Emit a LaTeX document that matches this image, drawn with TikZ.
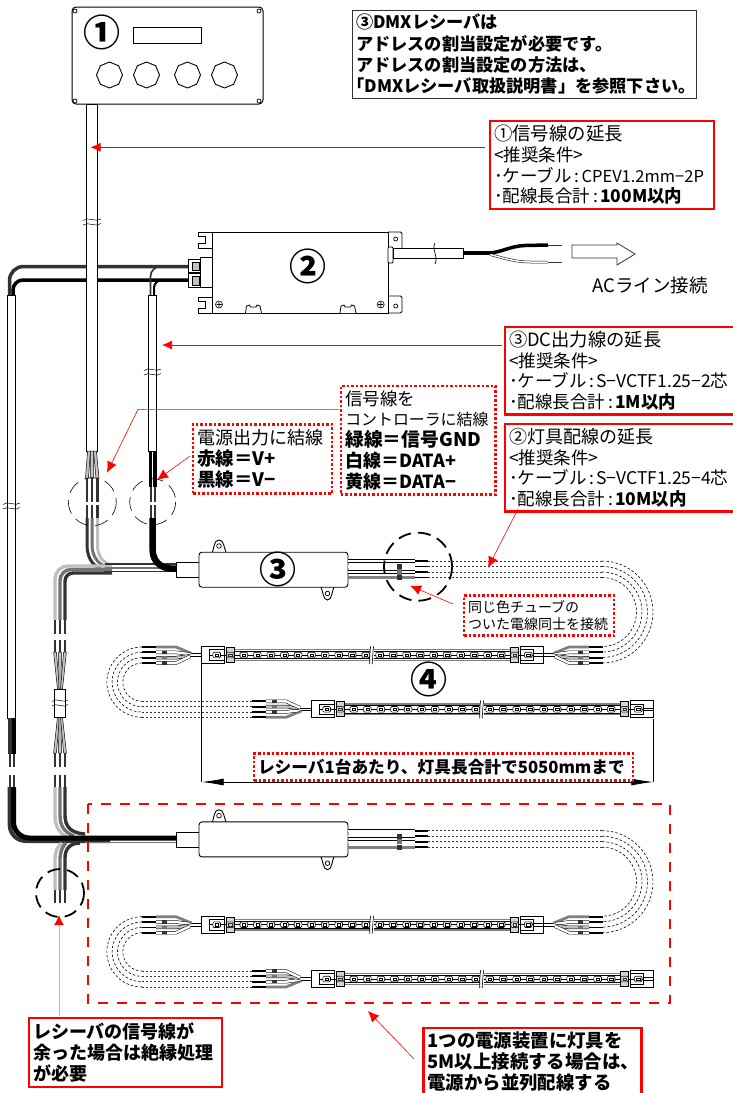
\documentclass[tikz,border=0pt]{standalone}
\usepackage{fontspec}
\setmainfont{Noto Sans CJK JP}
\usetikzlibrary{shapes.geometric, arrows.meta}
\definecolor{wirelight}{gray}{0.75}
\definecolor{wiremid}{gray}{0.45}
\definecolor{wiredark}{gray}{0.2}
\tikzset{
  redbox/.style={draw=red,line width=2.5pt,fill=white,outer sep=0pt,inner sep=4pt,align=left,font=\fontsize{17.5}{20.7}\selectfont},
  dotbox/.style={redbox,dash pattern=on 2.5pt off 2pt},
  blackbox/.style={redbox,draw=black!80,line width=1pt,font=\fontsize{17.2}{21.2}\selectfont\bfseries},
  numlabel/.style={font=\fontsize{37}{37}\selectfont\bfseries,inner sep=0pt},
  redarrow/.style={draw=red,line width=0.6pt,-{Latex[length=11pt,width=10pt]}},
  cable/.style={draw,fill=white,line width=0.9pt,outer sep=0pt,inner sep=0pt},
  recvbody/.style={draw,fill=white,line width=0.9pt,rounded corners=3pt,outer sep=0pt,inner sep=0pt,minimum width=149,minimum height=35},
  whitewire/.style={draw=black,double=white,line width=0.5pt,double distance=2.4pt},
  dotwire/.style={draw=wiredark,line width=0.7pt,dash pattern=on 2pt off 2pt},
  dashwire/.style={draw=black,line width=0.6pt,dash pattern=on 2.5pt off 2pt},
  thinring/.style={line width=0.6pt,dash pattern=on 14pt off 7pt},
  thickring/.style={line width=1.8pt,dash pattern=on 13pt off 7pt},
}
\newcommand{\fs}[2]{{\fontsize{#1}{20.7}\selectfont #2}}
\newcommand{\colonsep}{\kern3pt:\kern2pt}
\newcommand{\cutmark}[3]{%
  \draw[line width=0.5pt] ({#1-#3},{#2-1.5}) .. controls ({#1-#3/2},{#2-6}) and ({#1+#3/2},{#2+1}) .. ({#1+#3},{#2-3});
  \draw[line width=0.5pt] ({#1-#3},{#2+3}) .. controls ({#1-#3/2},{#2-1}) and ({#1+#3/2},{#2+6}) .. ({#1+#3},{#2+1.5});
}
\newcommand{\ledstrip}[2]{%
  \begin{scope}[shift={(#1,#2)}]
    \draw[line width=1.5pt,gray] (32,-5.3)--(309,-5.3) (32,5.3)--(309,5.3);
    \draw[line width=0.7pt] (32,-3.7)--(309,-3.7) (32,3.7)--(309,3.7);
    \draw[line width=0.8pt] (7,0)--(331,0);
    \foreach \n in {0,...,11} {
      \draw[rounded corners=1.2pt,line width=0.6pt,fill=white] ({15+13.55*\n-3.8},-2.8) rectangle ({15+13.55*\n+3.8},2.8);
      \draw[line width=0.5pt] ({15+13.55*\n-1.6},-1.2) rectangle ({15+13.55*\n+1.6},1.2);
      \draw[rounded corners=1.2pt,line width=0.6pt,fill=white] ({178+13.5*\n-3.8},-2.8) rectangle ({178+13.5*\n+3.8},2.8);
      \draw[line width=0.5pt] ({178+13.5*\n-1.6},-1.2) rectangle ({178+13.5*\n+1.6},1.2);
    }
    \fill[white] (168.5,-8.5) rectangle (172.5,8.5);
    \draw[line width=0.6pt] (169,-9) .. controls (168,-3) and (168,3) .. (168,9);
    \draw[line width=0.6pt] (172,-9) .. controls (171,-3) and (171,3) .. (170.5,9);
    \draw[line width=0.7pt,fill=gray,fill opacity=0.35] (24.5,-7.5) rectangle (32.5,7.5);
    \draw[line width=0.7pt,fill=gray,fill opacity=0.35] (309,-7.5) rectangle (317,7.5);
    \draw[line width=0.7pt] (0,-8.5) rectangle (23,8.5) (7.3,-5.3) rectangle (23,5.3);
    \draw[line width=0.7pt] (318.5,-8.5) rectangle (341.6,8.5) (318.5,-5.3) rectangle (331.5,5.3);
    \draw[line width=0.7pt] (331.5,-1.3)--(341.6,-1.3) (331.5,1.3)--(341.6,1.3);
  \end{scope}
}
\newcommand{\wirefan}[4]{%
  \begin{scope}[shift={(#1,#2)},xscale=#3,yscale=#4]
    \draw[line width=0.9pt] (0,-1.3)--(-11.7,-1.3) (0,1.3)--(-11.7,1.3);
    \draw[line width=2.8pt,gray] (-10,-1.5)--(-25.7,-8)--(-45.7,-8);
    \draw[whitewire] (-11.7,-0.8)--(-25.7,-2.7)--(-45.7,-2.7);
    \draw[whitewire,double=wirelight] (-11.7,0.8)--(-25.7,2.7)--(-45.7,2.7);
    \draw[whitewire] (-11.7,1.5)--(-25.7,8)--(-45.7,8);
    \foreach \wy in {-8,-2.7,2.7,8} {
      \draw[line width=1.8pt] (-45.7,\wy)--(-59.7,\wy);
    }
    \fill[wiredark] (-40,-4.3) rectangle (-35,-1.1);
    \fill[wiremid] (-40,1.1) rectangle (-35,4.3);
    \fill[wiredark] (-40,6.4) rectangle (-35,9.6);
  \end{scope}
}
\begin{document}
\begin{tikzpicture}[x=1pt,y=1pt,yscale=-1]
\path[use as bounding box,clip] (0,0) rectangle (733,1093);

% power wires
\draw[line width=3.5pt,wiredark,rounded corners=14pt] (188,266.5)--(9.5,266.5)--(9.5,296);
\draw[line width=3.5pt,black,rounded corners=10pt] (188,280)--(13,280)--(13,296);
\draw[line width=1.6pt,wiredark,rounded corners=10pt] (188,266.5)--(150.5,266.5)--(150.5,296);
\draw[line width=2pt,black,rounded corners=8pt] (188,280)--(154,280)--(154,296);

% cables
\node[cable,minimum width=11,minimum height=347] (sigcable) at (92,277.5) {};
\node[cable,minimum width=8,minimum height=423] (longcable) at (11.5,506.5) {};
\node[cable,minimum width=8,minimum height=156] (dccable) at (152.5,373) {};
\cutmark{92}{222}{9}
\cutmark{11.5}{506}{8.5}
\cutmark{152.5}{372}{8.5}

% signal wires under the first cable
\foreach \xa/\xb in {89/87,92/92,95/97.5} {
  \draw[line width=0.5pt,fill=wiremid!40] ({\xa-1.4},451)--({\xa+1.4},451)--({\xb+1.5},478)--({\xb-1.5},478)--cycle;
  \draw[line width=2.6pt,wiredark] (\xb,478)--(\xb,502) (\xb,505)--(\xb,518);
}
\draw[line width=3pt,wiredark] (87,518)--(87,545) .. controls (87,560) and (95,570) .. (110,571);
\draw[line width=3pt,wiremid] (92,518)--(92,545) .. controls (92,558) and (100,566) .. (110,568);
\draw[line width=3pt,wirelight] (97.5,518)--(97.5,545) .. controls (97.5,555) and (102,563) .. (112,565);
\draw[line width=3.4pt,wirelight,rounded corners=13pt] (112,566)--(55,566)--(55,620);
\draw[line width=3.4pt,wiremid,rounded corners=11pt] (112,569.5)--(60,569.5)--(60,620);
\draw[line width=3.4pt,wiredark,rounded corners=8pt] (112,573)--(65,573)--(65,620);
\draw[line width=1.2pt,wiredark] (105,564)--(176,564) (105,571.5)--(176,571.5);
\draw[line width=1.2pt,wiremid] (105,568)--(176,568);

% wires under the second cable
\foreach \wx in {150.5,155} {
  \draw[line width=3.4pt] (\wx,451)--(\wx,487);
  \draw[line width=2pt,wiredark] (\wx,487)--(\wx,502) (\wx,505)--(\wx,518);
}
\draw[line width=6.5pt,rounded corners=18pt] (152.7,518)--(152.7,568.5)--(176,568.5);

% wires under the long cable
\draw[line width=4pt,wiredark] (9.7,718)--(9.7,754);
\draw[line width=4pt] (13.5,718)--(13.5,754);
\foreach \wx in {9.7,13.5} {
  \draw[line width=2pt,wiredark] (\wx,754)--(\wx,767) (\wx,775)--(\wx,787);
}
\draw[line width=4pt,wiredark,rounded corners=16pt] (9.7,787)--(9.7,841)--(110,841);

% bundle going down the left side
\foreach \wx in {55,60,65} {
  \draw[line width=2.2pt,wiredark] (\wx,620)--(\wx,634) (\wx,640)--(\wx,652) (\wx,753)--(\wx,767) (\wx,775)--(\wx,787) (\wx,890)--(\wx,903);
  \draw[line width=0.5pt,fill=wiremid!40] ({\wx-1.4},652)--({\wx+1.4},652)--({60+(\wx-60)*0.3+1},689)--({60+(\wx-60)*0.3-1},689)--cycle;
  \draw[line width=0.5pt,fill=wiremid!40] ({\wx-1.4},753)--({\wx+1.4},753)--({60+(\wx-60)*0.3+1},717)--({60+(\wx-60)*0.3-1},717)--cycle;
}
\node[cable,minimum width=11,minimum height=28] (sleeve) at (60,703) {};
\cutmark{60}{703}{8}
\draw[line width=3.4pt,wirelight] (55,787)--(55,815) .. controls (55,828) and (60,833) .. (68,838);
\draw[line width=3.4pt,wiremid] (60,787)--(60,815) .. controls (60,826) and (64,832) .. (74,836);
\draw[line width=3.4pt,wiredark] (65,787)--(65,815) .. controls (65,826) and (70,833) .. (85,834);
\draw[line width=3.4pt,wirelight] (62,843) .. controls (57,847) and (55,852) .. (55,860) -- (55,890);
\draw[line width=3.4pt,wiremid] (66,843) .. controls (62,847) and (60,852) .. (60,860) -- (60,890);
\draw[line width=3.4pt,wiredark] (80,843) .. controls (70,843) and (65,849) .. (65,858) -- (65,890);
\draw[line width=5pt,rounded corners=16pt] (13.5,787)--(13.5,838)--(176,838);
\draw[line width=1pt,wiremid] (85,842)--(176,842);

% controller
\node[draw,fill=white,line width=1pt,rounded corners=4pt,outer sep=0pt,minimum width=191,minimum height=97] (ctrlbox) at (167.5,55.5) {};
\foreach \hx/\hy in {75/11,259/11,75/101,259/101} {
  \draw[line width=0.7pt] (\hx,\hy) circle (2);
}
\node[numlabel] (numctrl) at (102,32) {①};
\node[draw,line width=0.8pt,minimum width=68,minimum height=16.5,inner sep=0pt] (display) at (167,35.3) {};
\foreach \kx/\kname in {109.5/a,146.5/b,187.5/c,224.5/d} {
  \node[draw,line width=0.9pt,regular polygon,regular polygon sides=8,shape border rotate=22.5,minimum size=26,inner sep=0pt] (knob\kname) at (\kx,75) {};
}

% power unit
\draw[line width=0.9pt] (212,232)--(198,232)--(198,236)--(205,236)--(205,243)--(198,243)--(198,248)--(212,248);
\draw[line width=0.9pt] (212,297)--(198,297)--(198,301)--(205,301)--(205,308)--(198,308)--(198,313)--(212,313);
\draw[line width=0.9pt,rounded corners=1.5pt] (388,232)--(402,232)--(402,253)--(388,253);
\draw[line width=0.9pt,rounded corners=1.5pt] (388,296)--(402,296)--(402,313)--(388,313);
\draw[line width=0.7pt] (395.7,239) circle (2) (395.7,306) circle (2);
\node[draw,fill=white,line width=1pt,outer sep=0pt,minimum width=176,minimum height=81] (psubody) at (300,272.5) {};
\node[numlabel] (numpsu) at (307.5,266) {②};
\foreach \fx in {0,94.5} {
  \draw[line width=0.8pt,fill=white] ({245.5+\fx},313)--({246.5+\fx},306)--({249.5+\fx},305)--({250.5+\fx},307)--({256+\fx},307)--({257+\fx},305)--({260+\fx},306)--({261.5+\fx},313);
}
\foreach \sx in {219,380.7} {
  \draw[line width=0.6pt] (\sx,304.5) circle (3.5) ({\sx-2.5},304.5)--({\sx+2.5},304.5) (\sx,302)--(\sx,307);
}
\draw[line width=0.9pt,fill=white] (200.7,257) rectangle (212,287);
\draw[line width=0.9pt,fill=white] (188,259) rectangle (200.7,272) (188,273.5) rectangle (200.7,287.5);
\draw[line width=1pt,fill=gray!50] (192,262) rectangle (199,270) (192,276.5) rectangle (199,285);

% mains cable
\draw[line width=0.9pt,fill=white,rounded corners=1pt] (388,247) rectangle (393,263);
\draw[line width=4.5pt] (463,253)--(490,253);
\draw[line width=3.5pt] (488,253) .. controls (500,253) and (510,246) .. (525,245.5)--(548,245);
\draw[line width=1pt,wiredark] (548,245)--(561.5,245) (548,262)--(561.5,262);
\draw[whitewire,double distance=1.5pt] (490,254.5) .. controls (503,258) and (515,262) .. (530,262)--(548,262);
\node[cable,minimum width=70,minimum height=10.3] (maincable) at (428,253.1) {};
\draw[line width=0.7pt] (435,243) .. controls (431,250) and (439,256) .. (435,264);
\draw[line width=0.8pt,wiredark] (572,245)--(617,245)--(617,243)--(635,254)--(617,265)--(617,258)--(572,258)--cycle;
\node[anchor=west,inner sep=0pt,font=\fontsize{18.5}{20}\selectfont] (aclabel) at (592,285) {ACライン接続};

% receiver groups with their strips
\foreach \dy/\gname in {0/a,269.7/b} {
  \begin{scope}[shift={(0,\dy)}]
    \draw[line width=0.9pt,fill=white] (212.5,552) .. controls (214,548) and (214,540) .. (219,540) .. controls (224,540) and (224,548) .. (226,552);
    \draw[line width=0.9pt,fill=white] (321,587) .. controls (323,591) and (323,600) .. (327.5,600) .. controls (332,600) and (332,591) .. (334,587);
    \draw[line width=0.7pt] (219,546) circle (2.3) (327.5,593.5) circle (2.3);
    \node[cable,minimum width=23,minimum height=15] (sleeve\gname) at (187.5,570) {};
    \node[recvbody] (recv\gname) at (273.5,569.7) {};
    \foreach \wy in {561,566.5,572} {
      \draw[whitewire] (348,\wy)--(415,\wy);
    }
    \draw[line width=3pt,gray] (348,577.5)--(415,577.5);
    \fill[wiredark] (397,563.8) rectangle (402,569);
    \fill[wiremid] (397,569.2) rectangle (402,574.6);
    \fill[wiredark] (397,574.8) rectangle (402,580);
    \foreach \wy/\r in {561/51,566.5/45.5,572/40,577.5/34.5} {
      \draw[line width=1.8pt] (415,\wy)--(428,\wy);
      \draw[dotwire] (428,\wy)--(602,\wy);
      \draw[dashwire] (602,\wy) arc (-90:90:\r);
    }
    \ledstrip{201.7}{655}
    \ledstrip{311.7}{709.3}
    \wirefan{201.7}{655}{1}{1}
    \wirefan{543.3}{655}{-1}{1}
    \wirefan{311.7}{709.3}{1}{-1}
    \foreach \r in {35.15,29.85,24.55,19.15} {
      \draw[dashwire] (142,{682.15-\r}) arc (-90:-270:\r);
      \draw[dotwire] (142,{682.15+\r})--(252,{682.15+\r});
    }
  \end{scope}
}
\node[numlabel] (numrecv) at (278,569) {③};
\node[numlabel] (numstrip) at (429.3,679.3) {④};

% rings
\draw[thinring] (92.3,501.7) circle (24);
\draw[thinring] (152.7,501.7) circle (23);
\draw[thickring] (418,566.7) circle (34);
\draw[thickring] (60,893) circle (24);

% boxes
\node[blackbox,minimum width=344,minimum height=86,text width=336pt] (dmxbox) at (524,54.3) {③DMXレシーバは\\アドレスの割当設定が必要です。\\アドレスの割当設定の方法は、\\\hspace*{-8.6pt}「DMXレシーバ取扱説明書」を参照下さい。};
\node[redbox,minimum width=224,minimum height=88,text width=216pt] (sigbox) at (602,165) {\fs{18.4}{①信号線の延長}\\<推奨条件>\\･ケーブル\colonsep\fs{16.5}{CPEV1.2mm−2P}\\･配線長合計\colonsep\textbf{100M以内}};
\node[redbox,minimum width=240,minimum height=87.5,text width=232pt] (dcbox) at (625,370.5) {\fs{18.3}{③DC出力線の延長}\\<推奨条件>\\･ケーブル\colonsep S−VCTF1.25−2芯\\･配線長合計\colonsep\textbf{1M以内}};
\node[redbox,minimum width=240,minimum height=87.5,text width=232pt] (ledbox) at (625,467.8) {\fs{18}{②灯具配線の延長}\\<推奨条件>\\･ケーブル\colonsep S−VCTF1.25−4芯\\･配線長合計\colonsep\textbf{10M以内}};
\node[dotbox,minimum width=154.7,minimum height=108.3,text width=146pt] (sigjoin) at (418.3,440.2) {信号線を\\\fs{15.9}{コントローラに結線}\\\fs{18.8}{\textbf{緑線＝信号GND}}\\\fs{18}{\textbf{白線＝DATA+}}\\\fs{18}{\textbf{黄線＝DATA−}}};
\node[dotbox,minimum width=139,minimum height=69,text width=131pt] (pwrjoin) at (262.5,458.8) {\fs{18}{電源出力に結線}\\\fs{18.5}{\textbf{赤線＝V+}}\\\fs{18.5}{\textbf{黒線＝V−}}};
\node[dotbox,minimum width=150,minimum height=40,text width=142pt,font=\fontsize{14}{17}\selectfont] (samebox) at (539,615.7) {同じ色チューブの\\ついた電線同士を接続};
\coordinate (dimleft) at (201.7,782);
\coordinate (dimright) at (653.3,782);
\draw[line width=0.7pt] (201.7,664)--(dimleft);
\draw[line width=0.7pt] (653.3,719)--(dimright);
\draw[line width=0.8pt,{Latex[length=22pt,width=7pt]}-{Latex[length=22pt,width=7pt]}] (dimleft)--(dimright);
\node[dotbox,minimum width=379,minimum height=27,text width=371pt,font=\fontsize{16.7}{18}\selectfont\bfseries] (lenbox) at (443.5,767) {レシーバ1台あたり、灯具長合計で5050mmまで};
\draw[draw=red,line width=2.5pt,dash pattern=on 10pt off 9pt] (88,804) rectangle (670,1003);
\node[redbox,minimum width=193,minimum height=68.7,text width=185pt,font=\fontsize{18}{20.7}\selectfont\bfseries] (sparebox) at (125.5,1052.4) {レシーバの信号線が\\余った場合は絶縁処理\\が必要};
\node[redbox,minimum width=218.4,minimum height=66.4,text width=210pt,font=\fontsize{18.4}{20.7}\selectfont\bfseries] (parabox) at (532.5,1061.5) {1つの電源装置に灯具を\\5M以上接続する場合は、\\電源から並列配線する};

% leaders
\coordinate (sigfrom) at (485,147.3);
\coordinate (sigtip) at (90.5,147.3);
\draw[redarrow,-{Latex[length=10pt,width=9pt]}] (sigfrom)--(sigtip);
\coordinate (dcfrom) at (502,345);
\coordinate (dctip) at (162,345);
\draw[redarrow,-{Latex[length=10pt,width=9pt]}] (dcfrom)--(dctip);
\coordinate (ledfrom) at (518,509);
\coordinate (ledtip) at (488,567.7);
\draw[redarrow] (ledfrom)--(ledtip);
\coordinate (joinfrom) at (339,409.3);
\coordinate (joinbend) at (138,409.3);
\coordinate (jointip) at (107,472.7);
\draw[redarrow] (joinfrom)--(joinbend)--(jointip);
\coordinate (pwrfrom) at (190,456);
\coordinate (pwrtip) at (157,480);
\draw[redarrow] (pwrfrom)--(pwrtip);
\coordinate (samefrom) at (453,604);
\coordinate (sametip) at (410,585.7);
\draw[redarrow] (samefrom)--(sametip);
\coordinate (sparefrom) at (59,1016);
\coordinate (sparetip) at (59,915);
\draw[redarrow,draw=red!40,line width=1pt,-{Latex[length=10pt,width=10pt,red]}] (sparefrom)--(sparetip);
\coordinate (parafrom) at (414,1059);
\coordinate (paratip) at (368,1011);
\draw[redarrow] (parafrom)--(paratip);
\end{tikzpicture}
\end{document}
